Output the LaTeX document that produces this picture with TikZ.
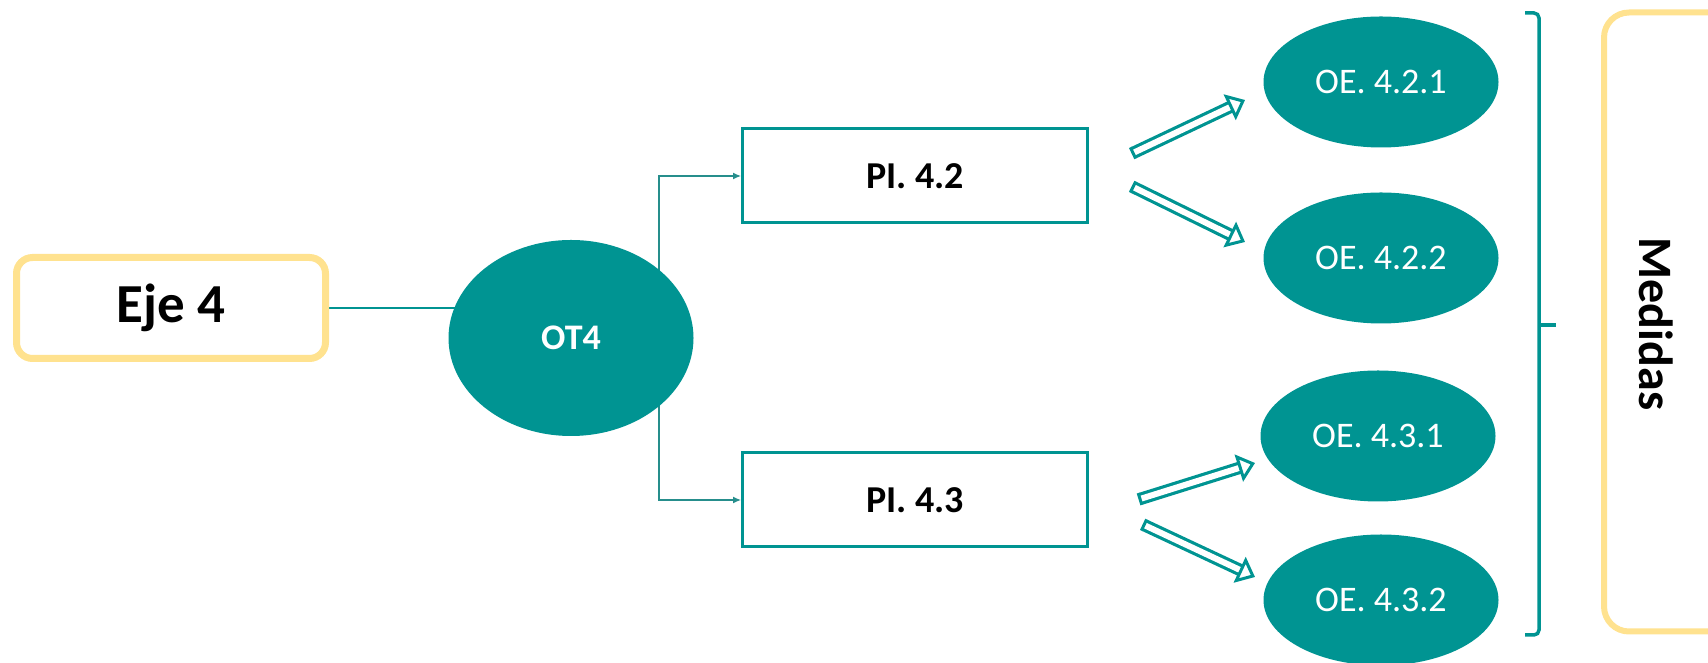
\documentclass[tikz,border=0pt]{standalone}
\usepackage{fontspec}
\setmainfont{Carlito}
\usetikzlibrary{shapes.geometric,arrows.meta,backgrounds}
\definecolor{tealc}{RGB}{0,148,146}
\definecolor{yelc}{RGB}{255,226,143}
\tikzset{
  yelbox/.style={draw=yelc, line width=7pt, rounded corners=16pt, fill=white},
  pibox/.style={draw=tealc, line width=3pt, fill=white, minimum width=345pt, minimum height=94pt, font=\fontsize{38}{42}\selectfont\bfseries},
  oval/.style={ellipse, fill=tealc, inner sep=0pt, text=white},
  oebox/.style={oval, minimum width=235pt, minimum height=131pt, font=\fontsize{36}{40}\selectfont},
  forkline/.style={draw=tealc!70!gray, line width=1.3pt},
  hollow/.style={draw=tealc, double=white, line width=3.2pt, double distance=6pt, {Bar[width=12.4pt,line width=3pt,sep=-1.5pt]}-{Triangle[open, fill=white, length=17pt, width=28pt, line width=3pt]}},
}

\begin{document}
\begin{tikzpicture}[x=1pt,y=1pt]
        \useasboundingbox (0,0) rectangle (1708,663);
        % eje y objetivo tematico
        \node[yelbox, minimum width=309pt, minimum height=101pt, font=\fontsize{55}{60}\selectfont\bfseries] (eje) at (171,355) {Eje 4};
        \node[oval, minimum width=245pt, minimum height=196pt, font=\fontsize{36}{40}\selectfont\bfseries] (ot) at (571,325) {OT4};
        \coordinate (fork) at (659,325);
        % prioridades de inversion
        \node[pibox] (pi42) at (915,487) {PI. 4.2};
        \node[pibox] (pi43) at (915,163) {PI. 4.3};
        % objetivos especificos
        \node[oebox] (oe421) at (1381,581) {OE. 4.2.1};
        \node[oebox] (oe422) at (1381,405) {OE. 4.2.2};
        \node[oebox] (oe431) at (1378,227) {OE. 4.3.1};
        \node[oebox] (oe432) at (1381,63) {OE. 4.3.2};
        \begin{scope}[on background layer]
            \draw[tealc, line width=1.5pt] (eje.east) -- (eje.east -| ot.center);
            \draw[forkline, -{Latex[length=8pt,width=7pt]}] (fork) |- (pi42.west);
            \draw[forkline, -{Latex[length=8pt,width=7pt]}] (fork) |- (pi43.west);
        \end{scope}
        % flechas huecas
        \coordinate (a1s) at (1133,510);
        \coordinate (a1e) at (1245,563);
        \coordinate (a2s) at (1133,476);
        \coordinate (a2e) at (1245,421);
        \coordinate (a3s) at (1140,164);
        \coordinate (a3e) at (1255,200);
        \coordinate (a4s) at (1144,138);
        \coordinate (a4e) at (1255,86);
        \draw[hollow] (a1s) -- (a1e);
        \draw[hollow] (a2s) -- (a2e);
        \draw[hollow] (a3s) -- (a3e);
        \draw[hollow] (a4s) -- (a4e);
        % llave
        \coordinate (brtop) at (1525,650);
        \coordinate (brmid) at (1539,338);
        \coordinate (brbot) at (1525,28);
        \draw[tealc, line width=3.5pt, rounded corners=5pt] (brtop) -- (brtop -| brmid) -- (brbot -| brmid) -- (brbot);
        \draw[tealc, line width=3.5pt] (brmid) -- ++(17,0);
        % medidas
        \begin{scope}
            \clip (0,0) rectangle (1708,663);
            \node[yelbox, line width=6pt, rounded corners=25pt, minimum width=220pt, minimum height=619pt] (medbox) at (1714,341) {};
        \end{scope}
        \node[rotate=-90, font=\fontsize{48}{52}\selectfont\bfseries] (medidas) at (1656,339) {Medidas};
    \end{tikzpicture}
\end{document}
